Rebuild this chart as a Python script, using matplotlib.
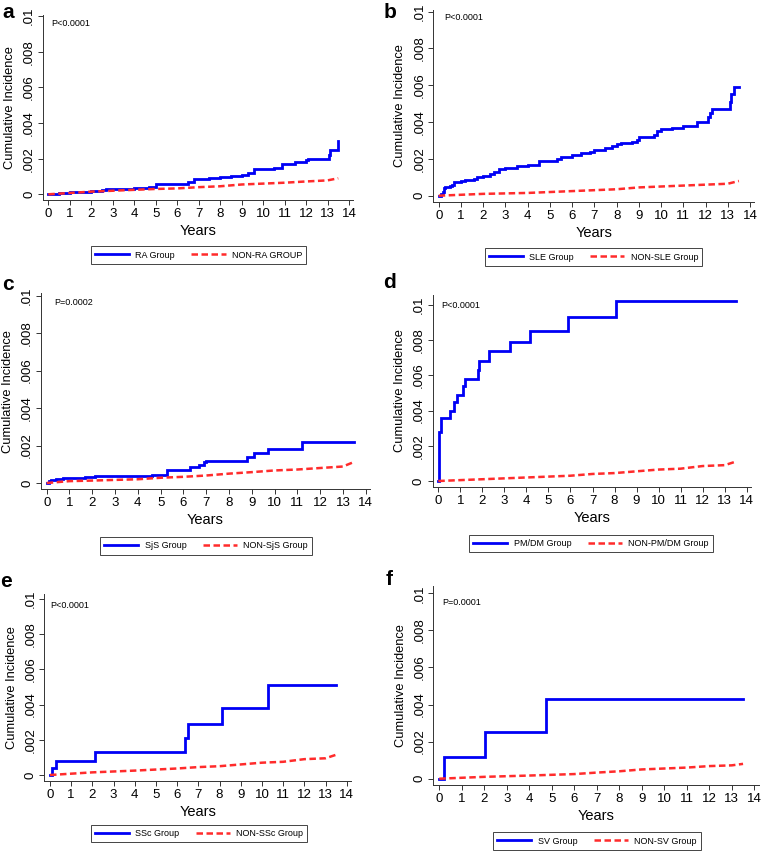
import matplotlib.pyplot as plt
import numpy as np

plt.rcParams['font.family'] = ['Liberation Sans', 'DejaVu Sans']

# ---- data: cumulative incidence ----
letters = ['a', 'b', 'c', 'd', 'e', 'f']
p_texts = ['P<0.0001', 'P<0.0001', 'P=0.0002', 'P<0.0001', 'P<0.0001', 'P=0.0001']
group_labels = [('RA Group', 'NON-RA GROUP'),
                ('SLE Group', 'NON-SLE Group'),
                ('SjS Group', 'NON-SjS Group'),
                ('PM/DM Group', 'NON-PM/DM Group'),
                ('SSc Group', 'NON-SSc Group'),
                ('SV Group', 'NON-SV Group')]

# RA
ra_t = [0, 0.5, 1, 2, 2.5, 2.7, 4, 4.7, 5, 5.5, 6.2, 6.5, 6.8, 7.5, 8, 8.5, 9, 9.3, 9.6,
        10.5, 10.9, 11.5, 12, 12.1, 13.05, 13.1, 13.5, 13.5]
ra_y = [0, 0.0001, 0.00015, 0.00018, 0.00025, 0.0003, 0.00038, 0.0004, 0.00055, 0.0006,
        0.0006, 0.0007, 0.00085, 0.0009, 0.00095, 0.001, 0.0011, 0.0012, 0.0014, 0.0015,
        0.0017, 0.0018, 0.0019, 0.002, 0.0022, 0.0025, 0.0025, 0.003]
non_ra_t = [0, 2, 4, 5, 6, 7, 8, 9, 10, 11, 12, 13, 13.5]
non_ra_y = [0, 0.00015, 0.00025, 0.0003, 0.00033, 0.0004, 0.00045, 0.00055, 0.0006,
            0.00065, 0.00072, 0.00078, 0.0009]

# SLE
sle_t = [0, 0.1, 0.2, 0.25, 0.3, 0.5, 0.6, 0.7, 1.0, 1.2, 1.6, 1.7, 2.0, 2.3, 2.5, 2.7,
         3.0, 3.5, 4.0, 4.5, 5.0, 5.3, 5.5, 6.0, 6.4, 6.8, 7.0, 7.5, 7.8, 8.0, 8.2, 8.7,
         8.9, 9.0, 9.7, 9.8, 10.0, 10.5, 11.0, 11.6, 12.1, 12.2, 12.3, 13.1, 13.15, 13.3, 13.5]
sle_y = [0, 0.0001, 0.0002, 0.0004, 0.00045, 0.0005, 0.0006, 0.00075, 0.00078, 0.00085,
         0.0009, 0.001, 0.00105, 0.0012, 0.0013, 0.00145, 0.0015, 0.0016, 0.00165, 0.0019,
         0.0019, 0.002, 0.0021, 0.0022, 0.0023, 0.0024, 0.0025, 0.0026, 0.0027, 0.0028,
         0.00285, 0.0029, 0.003, 0.0032, 0.0033, 0.0035, 0.0036, 0.0037, 0.0038, 0.004,
         0.0043, 0.0045, 0.0047, 0.0051, 0.0055, 0.0059, 0.0059]
non_sle_t = [0, 2, 4, 6, 7, 8, 9, 10, 11, 12, 13, 13.5]
non_sle_y = [0, 0.0001, 0.00015, 0.00025, 0.0003, 0.00035, 0.00045, 0.0005, 0.00055,
             0.0006, 0.00065, 0.0008]

# SjS
sjs_t = [0, 0.1, 0.2, 0.4, 0.7, 1.7, 2.1, 2.3, 4.6, 5.3, 6.3, 6.7, 6.9, 7.0, 8.8, 9.1,
         9.7, 11.2, 13.5]
sjs_y = [0, 0.0001, 0.00015, 0.0002, 0.00025, 0.0003, 0.00035, 0.0004, 0.00045, 0.0007,
         0.00085, 0.00094, 0.0011, 0.0012, 0.0014, 0.0016, 0.0018, 0.0022, 0.0022]
non_sjs_t = [0, 1, 2, 4, 5, 6, 7, 8, 9, 10, 11, 12, 13, 13.5]
non_sjs_y = [0, 0.0001, 0.00013, 0.0002, 0.00028, 0.00033, 0.0004, 0.0005, 0.00058,
             0.00067, 0.00072, 0.0008, 0.00088, 0.00113]

# PM/DM
pmdm_t = [0, 0.02, 0.05, 0.1, 0.55, 0.7, 0.85, 1.1, 1.2, 1.8, 1.85, 2.3, 3.25, 4.15,
          5.9, 8.05, 13.5]
pmdm_y = [0, 0.001, 0.0028, 0.0036, 0.004, 0.0045, 0.0049, 0.0054, 0.0058, 0.0063,
          0.0068, 0.0074, 0.0079, 0.0085, 0.0093, 0.01025, 0.01025]
non_pmdm_t = [0, 2, 4, 6, 7, 8, 9, 10, 11, 12, 13, 13.5]
non_pmdm_y = [0, 0.0001, 0.0002, 0.0003, 0.0004, 0.00045, 0.00055, 0.00065, 0.0007,
              0.00085, 0.0009, 0.0011]

# SSc
ssc_t = [0, 0.08, 0.3, 2.1, 6.35, 6.5, 8.1, 10.3, 13.5]
ssc_y = [0, 0.0004, 0.0008, 0.0013, 0.0021, 0.0029, 0.0038, 0.0051, 0.0051]
non_ssc_t = [0, 2, 4, 6, 7, 8, 9, 10, 11, 12, 13, 13.5]
non_ssc_y = [0, 0.00015, 0.00025, 0.00037, 0.00045, 0.0005, 0.0006, 0.0007, 0.00075,
             0.0009, 0.00095, 0.00115]

# SV
sv_t = [0, 0.2, 2.05, 4.75, 13.5]
sv_y = [0, 0.00115, 0.0025, 0.0043, 0.0043]
non_sv_t = [0, 2, 4, 6, 7, 8, 9, 10, 11, 12, 13, 13.5]
non_sv_y = [0, 0.0001, 0.00017, 0.00025, 0.00033, 0.0004, 0.0005, 0.00055, 0.0006,
            0.00068, 0.00072, 0.0008]

group_t = [ra_t, sle_t, sjs_t, pmdm_t, ssc_t, sv_t]
group_y = [ra_y, sle_y, sjs_y, pmdm_y, ssc_y, sv_y]
non_t = [non_ra_t, non_sle_t, non_sjs_t, non_pmdm_t, non_ssc_t, non_sv_t]
non_y = [non_ra_y, non_sle_y, non_sjs_y, non_pmdm_y, non_ssc_y, non_sv_y]

y_ticks = [0, 0.002, 0.004, 0.006, 0.008, 0.01]
y_ticklabels = ['0', '.002', '.004', '.006', '.008', '.01']
x_ticks = list(range(0, 15))

# ---- layout (pixels) ----
W, H = 762, 852
# pixel position of x=0, x=14, y=0, y=.01 for each panel
anchors = [(48.3, 349, 194.3, 16), (438.7, 750, 195.7, 11.7),
           (46.7, 365.7, 483, 295.7), (438.3, 746.7, 481, 305),
           (50, 346.7, 775, 599), (439.3, 754.3, 778.7, 593.3)]
y_tops = [0.01006, 0.0101, 0.01012, 0.01057, 0.0103, 0.0104]
x_lim = (-0.26, 14.2)
y_bottom = -0.00034
letter_pos = [(2, 18), (384, 18), (2, 290), (383, 288), (0, 587), (386, 585)]
p_pos = [(0.15, 0.0096), (0.24, 0.00966), (0.32, 0.00964), (0.15, 0.01), (0.03, 0.00962),
         (0.11, 0.0095)]
legend_pos = [(198.5, 255), (593.5, 257), (206, 546), (591, 543.5), (199, 833.5), (597, 841)]

blue = '#0000f5'
red = '#ff2b2b'

fig = plt.figure(figsize=(W / 100, H / 100), dpi=100)

for i in range(6):
    x0, x14, y0, y01 = anchors[i]
    u = (x14 - x0) / 14
    v = (y0 - y01) / 0.01
    left = x0 + x_lim[0] * u
    right = x0 + x_lim[1] * u
    top = y0 - y_tops[i] * v
    bottom = y0 - y_bottom * v
    ax = fig.add_axes([left / W, 1 - bottom / H, (right - left) / W, (bottom - top) / H])

    ax.step(group_t[i], group_y[i], where='post', color=blue, lw=2.0,
            label=group_labels[i][0], solid_joinstyle='miter')
    ax.plot(non_t[i], non_y[i], color=red, lw=1.8, dashes=(2.6, 1.4),
            label=group_labels[i][1])

    ax.set_xlim(*x_lim)
    ax.set_ylim(y_bottom, y_tops[i])
    ax.set_xticks(x_ticks)
    ax.set_yticks(y_ticks)
    ax.set_yticklabels(y_ticklabels, rotation=90, va='center')
    ax.tick_params(axis='both', direction='out', length=3.5, width=0.7, labelsize=9.5,
                   color='#333333', pad=2)
    for s in ['top', 'right']:
        ax.spines[s].set_visible(False)
    for s in ['left', 'bottom']:
        ax.spines[s].set_linewidth(0.7)
        ax.spines[s].set_color('#333333')
    ax.set_xlabel('Years', fontsize=10.5, labelpad=3)
    ax.set_ylabel('Cumulative Incidence', fontsize=9.3, labelpad=5)
    ax.text(p_pos[i][0], p_pos[i][1], p_texts[i], fontsize=6.5, va='center', ha='left')

    fig.text(letter_pos[i][0] / W, 1 - letter_pos[i][1] / H, letters[i], fontsize=15,
             fontweight='bold', ha='left', va='baseline')

    leg = fig.legend(*ax.get_legend_handles_labels(), loc='center', ncol=2,
                     bbox_to_anchor=(legend_pos[i][0] / W, 1 - legend_pos[i][1] / H),
                     fontsize=6.5, handlelength=3.8, handletextpad=0.7,
                     columnspacing=1.8, borderpad=0.45, fancybox=False, framealpha=1,
                     edgecolor='#444444')
    leg.get_frame().set_linewidth(0.7)

fig.savefig('out.png', dpi=100)
